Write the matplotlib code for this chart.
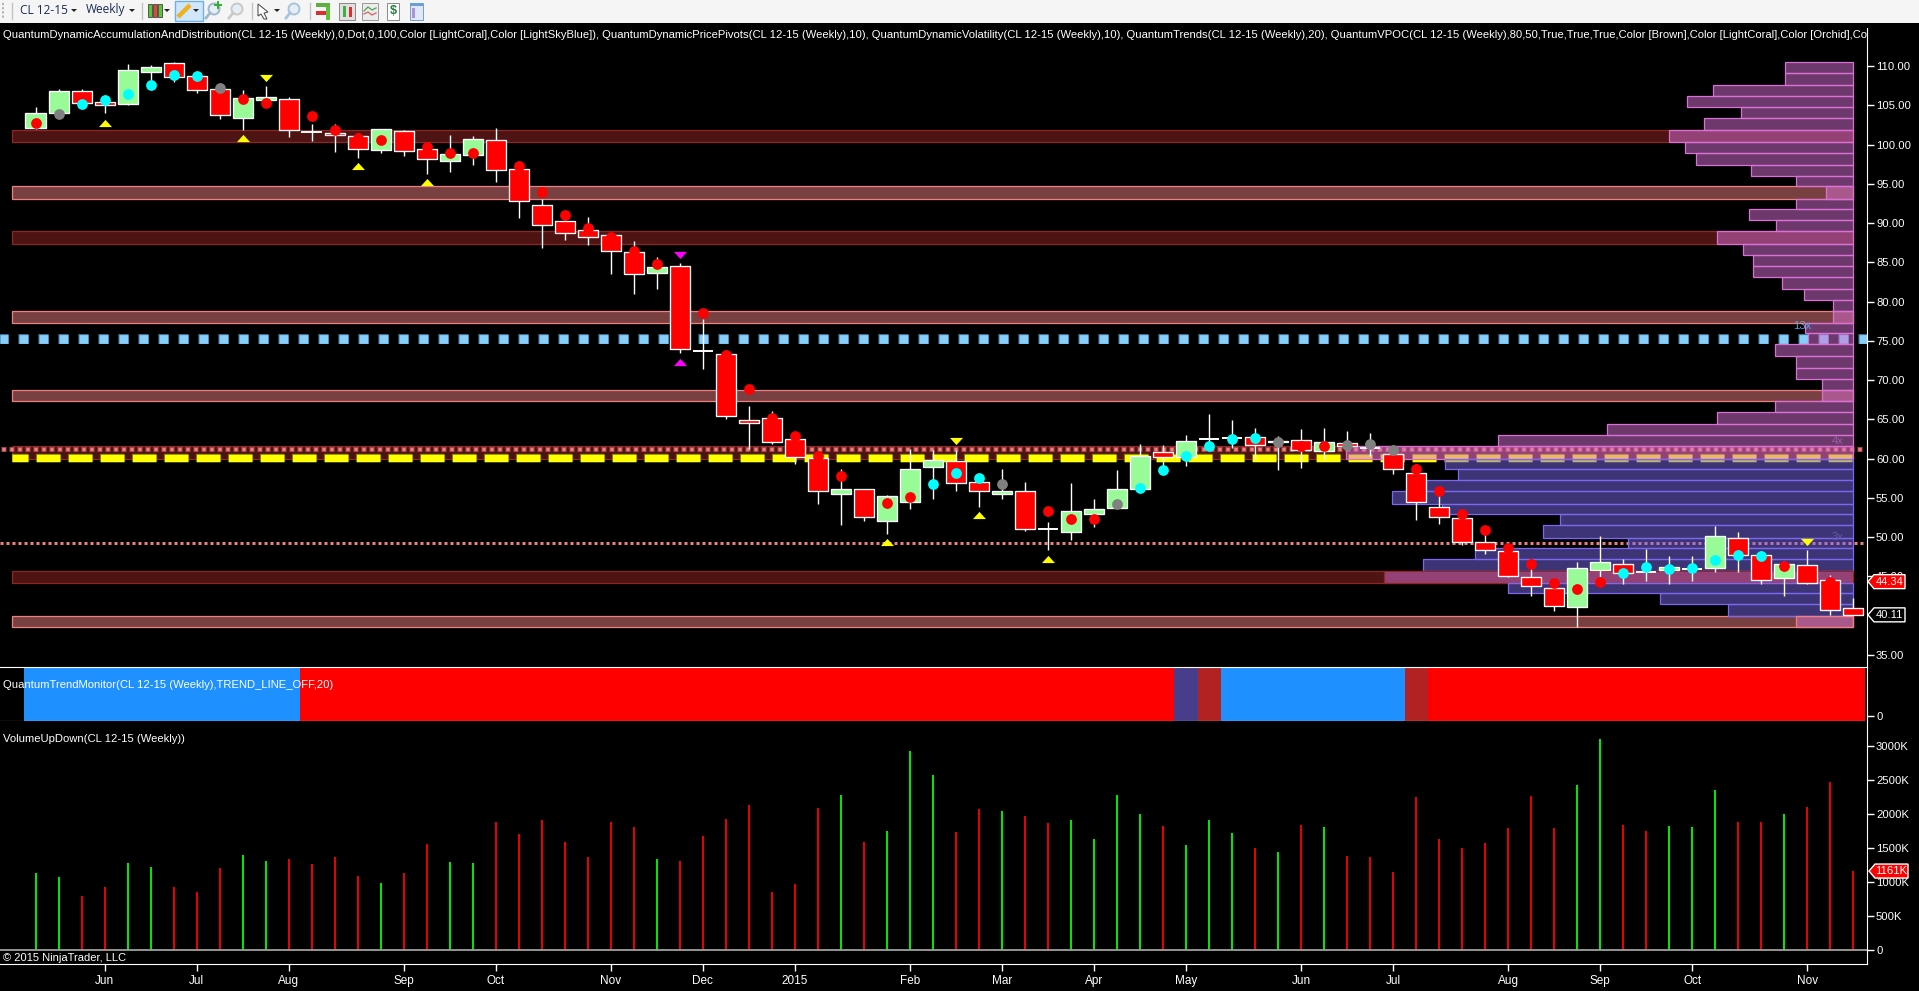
import matplotlib
matplotlib.use('Agg')
import matplotlib.pyplot as plt
from matplotlib.patches import Rectangle, Polygon

plt.rcParams['font.family'] = ['Liberation Sans', 'DejaVu Sans']
plt.rcParams['lines.scale_dashes'] = False

# weekly candles CL 12-15
opens = [102.15,104.06,106.77,105.37,105.20,109.28,110.34,108.68,107.03,103.42,105.71,105.76,101.55,101.43,101.09,99.35,101.68,99.39,97.95,98.67,
         100.54,96.84,92.26,90.22,89.08,88.44,86.28,83.69,84.49,73.77,73.30,64.90,65.15,62.48,60.06,55.56,56.11,52.12,54.54,59.00,
         59.68,57.01,55.56,55.86,51.02,50.72,52.89,53.78,56.20,60.82,60.27,62.44,62.57,62.73,62.06,62.35,61.00,61.97,61.42,60.53,
         58.15,53.82,52.42,49.37,48.22,44.91,43.51,41.05,45.76,46.57,45.55,45.76,46.01,46.14,49.96,47.71,44.74,46.44,44.53,40.96]
closes = [104.06,106.77,105.25,105.08,109.45,109.83,108.64,106.99,103.80,105.88,106.01,101.81,101.55,101.26,99.47,101.94,99.22,98.20,98.75,100.66,
          96.80,92.85,89.80,88.78,88.27,86.49,83.56,84.37,73.94,73.77,65.49,64.60,62.18,60.15,55.82,56.11,52.51,55.22,58.66,59.81,
          56.96,55.94,55.86,50.98,51.02,53.31,53.57,56.11,60.32,60.15,62.23,62.44,62.57,61.80,62.31,61.12,62.10,61.67,61.42,58.62,
          54.42,52.51,49.45,48.43,45.12,43.76,41.18,46.06,46.82,45.38,45.55,46.18,46.01,50.13,47.67,44.49,46.57,44.23,40.67,40.11]
highs = [104.74,107.03,107.03,106.10,110.21,110.08,110.51,109.28,107.79,106.94,107.45,106.01,102.62,102.62,101.43,101.94,101.85,100.15,101.21,101.09,
         102.11,97.40,93.02,90.60,90.73,88.70,87.68,85.64,84.88,77.80,73.85,66.72,66.09,63.24,60.70,58.66,56.11,55.39,61.25,61.04,
         61.12,57.73,58.70,57.05,51.96,56.92,54.88,58.58,61.89,61.76,62.99,65.71,64.94,63.92,62.90,63.80,63.92,63.54,63.24,61.76,
         59.30,56.45,53.48,51.36,49.24,47.12,44.78,46.78,50.17,47.20,48.52,47.63,47.63,51.45,50.68,48.18,47.03,48.39,45.21,42.24]
lows = [102.02,104.06,105.25,104.06,105.03,108.22,108.01,106.60,103.25,101.85,104.82,101.00,100.49,99.05,98.29,98.97,98.54,96.25,96.50,97.40,
        95.23,90.65,86.83,87.85,87.21,83.52,80.97,81.65,73.51,71.44,65.07,61.21,61.89,59.34,54.25,51.57,52.08,50.43,53.61,54.88,
        55.90,53.86,54.88,50.81,48.39,49.66,51.32,53.70,56.11,58.58,59.09,61.12,61.38,59.93,58.58,58.83,59.85,61.12,60.36,58.07,
        52.21,51.70,49.03,47.88,44.99,42.53,40.62,38.50,44.99,44.06,44.36,44.06,44.36,45.63,45.63,44.06,42.53,44.06,40.11,40.11]

# volatility dots, one per week (None = no dot)
dot_price = [102.74,103.89,105.16,105.67,106.44,107.58,108.85,108.72,107.20,105.80,105.29,None,103.63,101.85,100.79,100.58,None,99.73,98.92,98.92,
             None,97.27,93.96,91.03,89.37,88.27,86.49,84.75,None,78.55,73.22,68.93,65.20,62.90,60.36,57.81,None,54.37,55.14,56.79,
             58.19,57.56,56.79,None,53.36,52.34,52.34,54.25,56.28,58.58,60.36,61.63,62.52,62.65,62.14,61.55,61.55,61.76,61.89,61.12,
             58.70,55.90,52.97,50.94,48.64,46.61,44.19,43.43,44.32,45.46,46.23,45.97,46.10,47.12,47.75,47.63,46.35,None,44.32,None]
dot_kind = "rgccccccgrr-rrrr-rrr-rrrrrrr-rrrrrrr-rrcccg-rrrgccccccgrrgggrrrrrrrrrcccccccr-r-"
dot_colors = {'r': 'red', 'g': 'gray', 'c': 'cyan'}

# pivots
pivot_up_x = [3, 9, 14, 17, 37, 41, 44]
pivot_up_y = [102.79, 100.79, 97.23, 95.19, 49.37, 52.80, 47.20]
pivot_dn_x = [10, 40, 77]
pivot_dn_y = [108.51, 62.31, 49.45]
magenta_up = (28, 72.28)
magenta_dn = (28, 85.98)

# accumulation / distribution zones
zone_low = [100.37, 93.11, 87.38, 77.32, 67.28, 60.02, 44.23, 38.50]
zone_high = [101.81, 94.68, 88.95, 78.76, 68.72, 61.59, 45.67, 39.94]
zone_dark = [True, False, True, False, False, True, True, False]

# volume profile, bin edges from the top and bin length in weeks
vp_edges = [110.47,109.07,107.58,106.14,104.74,103.34,101.81,100.37,98.97,97.44,96.04,94.68,93.11,91.75,90.35,88.95,87.38,85.98,84.58,83.09,81.65,80.25,78.76,77.32,
            75.98,74.58,73.01,71.60,70.20,68.72,67.28,65.88,64.35,62.99,61.59,60.02,58.62,57.22,55.82,54.29,52.89,51.49,49.96,48.56,47.20,45.67,44.23,42.83,41.43,39.94,38.50]
vp_len = [2.97,2.97,6.11,7.24,4.88,6.50,8.02,7.33,6.83,4.46,2.49,1.19,2.49,4.54,3.36,5.93,4.79,4.35,4.35,3.09,2.13,0.90,0.90,
          2.11,1.98,3.41,2.49,2.49,1.35,1.35,3.41,5.93,10.72,15.42,22.04,
          17.75,17.16,18.90,20.03,17.89,12.73,13.50,9.81,16.43,18.69,20.39,15.00,8.41,5.45,2.49]
vp_orchid_bins = 35
vp_zone_bins = {45: '#8e2626', 49: 'lightcoral'}

# volume in thousands
volume = [1136,1077,798,930,1282,1224,930,857,1209,1400,1312,1341,1268,1371,1092,989,1136,1561,1297,1282,
          1884,1708,1914,1591,1371,1884,1811,1341,1312,1679,1929,2134,857,974,2090,2281,1591,1752,2927,2575,
          1738,2075,2046,1973,1870,1914,1635,2281,2002,1826,1547,1914,1723,1503,1444,1840,1811,1385,1371,1150,
          2252,1635,1503,1576,1796,2266,1796,2428,3103,1840,1752,1826,1811,2354,1884,1884,2002,2105,2472,1161]
vol_up_weeks = [0,1,4,5,9,10,15,18,19,27,35,37,38,39,42,45,46,47,48,50,51,52,54,56,67,68,71,72,73,76]

# trend monitor colour per week
trend = ['dodgerblue']*12 + ['red']*38 + ['darkslateblue', 'firebrick'] + ['dodgerblue']*8 + ['firebrick'] + ['red']*19

month_pos = [3,7,11,16,20,25,29,33,38,42,46,50,55,59,64,68,72,77]
month_names = ['Jun','Jul','Aug','Sep','Oct','Nov','Dec','2015','Feb','Mar','Apr','May','Jun','Jul','Aug','Sep','Oct','Nov']
price_ticks = [35,45,50,55,60,65,70,75,80,85,90,95,100,105,110]
vol_ticks = [0,500,1000,1500,2000,2500,3000]

title = ("QuantumDynamicAccumulationAndDistribution(CL 12-15 (Weekly),0,Dot,0,100,Color [LightCoral],Color [LightSkyBlue]), "
         "QuantumDynamicPricePivots(CL 12-15 (Weekly),10), QuantumDynamicVolatility(CL 12-15 (Weekly),10), "
         "QuantumTrends(CL 12-15 (Weekly),20), QuantumVPOC(CL 12-15 (Weekly),80,50,True,True,True,Color [Brown],Color [LightCoral],Color [Orchid],Color [MediumSlateBlue])")

W, H = 1919, 991
PX = 0.72  # one pixel in points at dpi 100
FS = 8.15
TICKFS = 8.1
fig = plt.figure(figsize=(W/100, H/100), dpi=100, facecolor='black')

def panel(top, bottom):
    return fig.add_axes([0, (H-bottom)/H, 1867/W, (bottom-top)/H], facecolor='black')

ax = panel(28, 667)
ax2 = panel(667, 721)
ax3 = panel(721, 964)
weeks = list(range(80))
xlim = ((0-35.5)/23.01, (1867-35.5)/23.01)
for a in (ax, ax2, ax3):
    a.set_xlim(xlim)
    for s in a.spines.values():
        s.set_visible(False)
    a.spines['right'].set_visible(True)
    a.spines['right'].set_color('white')
    a.yaxis.tick_right()
    a.tick_params(axis='y', colors='white', length=5, width=1, labelsize=TICKFS, pad=1.5)
    a.set_xticks([])

# price panel
ax.set_ylim(33.47, 114.84)
ax.set_yticks(price_ticks)
ax.set_yticklabels(['%.2f' % t for t in price_ticks])

# pivot lines
ax.plot(xlim, [75.2, 75.2], color='#3f6f8f', lw=10*PX, zorder=2, linestyle=(1.6*PX, (10.2*PX, 9.8*PX)))
ax.plot(xlim, [75.2, 75.2], color='lightskyblue', lw=8.8*PX, zorder=2.1, linestyle=(1.0*PX, (9*PX, 11*PX)))
ax.plot([-1.5, 79.4], [61.2, 61.2], color='#a84848', lw=5*PX, zorder=2.2, linestyle=(0, (5*PX, 3*PX)))
ax.plot([-1.5, 79.4], [61.2, 61.2], color='lightcoral', lw=3*PX, zorder=2.3, linestyle=(-1*PX, (3*PX, 5*PX)))
ax.plot([xlim[0], 79.5], [49.24, 49.24], color='lightcoral', lw=3*PX, zorder=2.2, linestyle=(0, (3*PX, 3*PX)))
ax.plot([-1, 79], [60.04, 60.04], color='#7d7d00', lw=8.4*PX, zorder=2.4, linestyle=(8*PX, (24.5*PX, 7.5*PX)))
ax.plot([-1, 79], [60.04, 60.04], color='yellow', lw=7.4*PX, zorder=2.5, linestyle=(7.5*PX, (23.5*PX, 8.5*PX)))

# zones
for lo, hi, dark in zip(zone_low, zone_high, zone_dark):
    if dark:
        fc, ec = (0.647, 0.165, 0.165, 0.48), '#8e2626'
    else:
        fc, ec = (0.94, 0.50, 0.50, 0.50), 'lightcoral'
    ax.add_patch(Rectangle((-1, lo), 80, hi-lo, facecolor=fc, edgecolor=ec, lw=0.9, zorder=1.5))

# volume profile
for k, n in enumerate(vp_len):
    top, bot = vp_edges[k], vp_edges[k+1]
    if k < vp_orchid_bins:
        fc, ec = (0.855, 0.44, 0.84, 0.5), 'orchid'
    elif k in vp_zone_bins:
        fc, ec = (0.855, 0.44, 0.84, 0.5), vp_zone_bins[k]
    else:
        fc, ec = (0.48, 0.41, 0.93, 0.5), 'mediumslateblue'
    ax.add_patch(Rectangle((79-n, bot), n, top-bot, facecolor=fc, edgecolor=ec, lw=0.9, zorder=3))

# candles
ax.vlines(weeks, lows, highs, color='white', lw=1.0, zorder=4)
for i in weeks:
    o, c = opens[i], closes[i]
    if o == c:
        ax.plot([i-0.44, i+0.44], [o, o], color='white', lw=1.4, zorder=5, solid_capstyle='butt')
    else:
        col = 'palegreen' if c > o else 'red'
        ax.bar(i, abs(c-o), bottom=min(o, c), width=0.87, color=col, edgecolor='white', linewidth=0.95, zorder=5)

# dots
for i in weeks:
    if dot_price[i] is not None:
        ax.scatter(i, dot_price[i], s=60, color=dot_colors[dot_kind[i]], linewidths=0, zorder=6)

# triangles
up_tri = [(-1, -0.55), (1, -0.55), (0, 0.55)]
dn_tri = [(-1, 0.55), (1, 0.55), (0, -0.55)]
ax.scatter(pivot_up_x, pivot_up_y, marker=up_tri, s=88, color='yellow', linewidths=0, zorder=6)
ax.scatter(pivot_dn_x, pivot_dn_y, marker=dn_tri, s=88, color='yellow', linewidths=0, zorder=6)
ax.scatter(*magenta_up, marker=up_tri, s=88, color='magenta', linewidths=0, zorder=6)
ax.scatter(*magenta_dn, marker=dn_tri, s=88, color='magenta', linewidths=0, zorder=6)

ax.text(3/1867, 1-7/639, title, transform=ax.transAxes, color='white', fontsize=FS, va='center', clip_on=True, zorder=8)
ax.text(76.8, 76.9, '13x', color='#5aa5d8', fontsize=FS, va='center', ha='center', zorder=7)
ax.text(78.3, 62.2, '4x', color='#9a5fa5', fontsize=FS, va='center', ha='center', zorder=7)
ax.text(78.3, 50.0, '3x', color='#6a55a8', fontsize=FS, va='center', ha='center', zorder=7)

# trend monitor
ax2.set_ylim(-1, 9.8)
ax2.bar(weeks, [10.8]*80, bottom=-1, width=1.0, color=trend, linewidth=0)
ax2.set_yticks([0])
ax2.set_yticklabels(['0'])
ax2.spines['top'].set_visible(True)
ax2.spines['top'].set_color('white')
ax2.spines['bottom'].set_visible(True)
ax2.spines['bottom'].set_color('white')
ax2.text(3/1867, 1-18/54, 'QuantumTrendMonitor(CL 12-15 (Weekly),TREND_LINE_OFF,20)', transform=ax2.transAxes, color='white', fontsize=FS, va='center')

# volume
ax3.set_ylim(-206, 3368)
vcol = ['lime' if i in vol_up_weeks else 'red' for i in weeks]
ax3.vlines(weeks, 0, volume, colors=vcol, lw=1.3)
ax3.axhline(0, color='#a0a0a0', lw=1.3)
ax3.set_yticks(vol_ticks)
ax3.set_yticklabels(['0' if v == 0 else '%dK' % v for v in vol_ticks])
ax3.spines['bottom'].set_visible(True)
ax3.spines['bottom'].set_color('white')
ax3.set_xticks(month_pos)
ax3.set_xticklabels(month_names)
ax3.tick_params(axis='x', colors='white', length=5, width=1, labelsize=8.5, pad=3)
ax3.text(3/1867, 1-18/243, 'VolumeUpDown(CL 12-15 (Weekly))', transform=ax3.transAxes, color='white', fontsize=FS, va='center')
ax3.text(3/1867, 1-237/243, '\u00a9 2015 NinjaTrader, LLC', transform=ax3.transAxes, color='white', fontsize=8, va='center')

# overlay in pixels: toolbar and value tags
ov = fig.add_axes([0, 0, 1, 1], facecolor='none')
ov.set_xlim(0, W)
ov.set_ylim(H, 0)
ov.axis('off')

def tag(y, x0, x1, fc, ec, label):
    ov.add_patch(Polygon([(x0, y), (x0+6, y-7), (x1, y-7), (x1, y+7), (x0+6, y+7)], facecolor=fc, edgecolor=ec, lw=1, zorder=9))
    ov.text((x0+6+x1)/2, y, label, color='white', fontsize=TICKFS, ha='center', va='center', zorder=10)

tag(H - ax.transData.transform((0, 44.34))[1], 1868, 1905, 'red', 'white', '44.34')
tag(H - ax.transData.transform((0, 40.11))[1], 1868, 1905, 'black', 'white', '40.11')
tag(H - ax3.transData.transform((0, 1161))[1], 1869, 1908, 'red', 'white', '1161K')

# toolbar
ov.add_patch(Rectangle((0, 0), W, 23, facecolor='#f5f5f5', edgecolor='none', zorder=1))
for sx in (12, 142, 252, 310):
    ov.plot([sx, sx], [3, 19], color='#c4c4c4', lw=1, zorder=2)
ov.plot([3, 3], [3, 18], color='#b0b0b0', lw=1.4, linestyle=(0, (1.5, 1.5)), zorder=2)
toolfont = ['Open Sans', 'DejaVu Sans']
ov.text(20, 10, 'CL 12-15', color='#1b2c56', fontsize=8.6, family=toolfont, va='center', zorder=3)
ov.text(86, 10, 'Weekly', color='#1b2c56', fontsize=8.6, family=toolfont, va='center', zorder=3)
for ax_x in (74, 132, 167, 196, 277):
    ov.add_patch(Polygon([(ax_x-3, 9), (ax_x+3, 9), (ax_x, 12)], facecolor='#222222', edgecolor='none', zorder=3))
# candle icon
for cx, cc in ((150, '#5cc23a'), (155, '#d94a3a'), (160, '#5cc23a')):
    ov.add_patch(Rectangle((cx-2, 4), 4, 13, facecolor=cc, edgecolor='#444444', lw=0.6, zorder=3))
# pencil, selected
ov.add_patch(Rectangle((174.5, 0.5), 28, 20, facecolor='#cfe6fb', edgecolor='#70b0e8', lw=1, zorder=2))
ov.plot([178, 190], [17, 5], color='#f0b020', lw=3.2, zorder=3, solid_capstyle='butt')
# magnifiers
for mx, cc in ((214, '#9fb8cc'), (237, '#c8c8c8'), (294, '#a8c4dc')):
    ov.add_patch(plt.Circle((mx, 9), 5.5, facecolor='#e6eef5', edgecolor=cc, lw=1.4, zorder=3))
    ov.plot([mx-4, mx-8], [13, 18], color=cc, lw=2, zorder=3)
ov.plot([215, 221], [5, 5], color='#30b030', lw=1.4, zorder=4)
ov.plot([218, 218], [2, 8], color='#30b030', lw=1.4, zorder=4)
# cursor
ov.add_patch(Polygon([(258, 4), (268, 12), (264, 13), (267, 19), (264, 19), (261, 14), (258, 16)], facecolor='white', edgecolor='#555555', lw=0.8, zorder=3))
# chart tools
ov.add_patch(Rectangle((316, 3), 14, 4, facecolor='#5cb040', zorder=3))
ov.add_patch(Rectangle((316, 11), 10, 4, facecolor='#d83030', zorder=3))
ov.add_patch(Rectangle((326, 7), 4, 13, facecolor='#5cc23a', zorder=3))
ov.add_patch(Rectangle((339, 3), 16, 17, facecolor='#e0e0e0', edgecolor='#888888', lw=0.7, zorder=3))
ov.add_patch(Rectangle((343, 6), 3, 11, facecolor='#40b040', zorder=4))
ov.add_patch(Rectangle((349, 7), 3, 10, facecolor='#d83030', zorder=4))
ov.add_patch(Rectangle((362, 3), 16, 17, facecolor='#ececec', edgecolor='#999999', lw=0.7, zorder=3))
ov.plot([364, 368, 372, 376], [11, 7, 10, 8], color='#50a050', lw=0.9, zorder=4)
ov.plot([364, 368, 372, 376], [14, 12, 15, 13], color='#d06060', lw=0.9, zorder=4)
ov.add_patch(Rectangle((387, 3), 12, 17, facecolor='white', edgecolor='#888888', lw=0.7, zorder=3))
ov.text(393, 11.5, '$', color='#208040', fontsize=9, fontweight='bold', ha='center', va='center', zorder=4)
ov.add_patch(Rectangle((410, 3), 13, 17, facecolor='#dfe8f5', edgecolor='#7a9cc8', lw=0.7, zorder=3))
ov.add_patch(Rectangle((410, 3), 13, 3, facecolor='#6aa0d8', zorder=4))
ov.add_patch(Rectangle((412, 8), 3, 10, facecolor='#b090d8', zorder=4))

fig.savefig('out.png', dpi=100, facecolor='black')
